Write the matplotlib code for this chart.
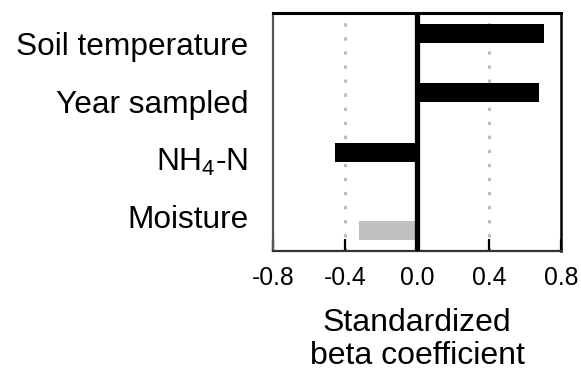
import numpy as np
import matplotlib.pyplot as plt

plt.rcParams["font.family"] = ["Liberation Sans", "DejaVu Sans"]
plt.rcParams["mathtext.fontset"] = "custom"
plt.rcParams["mathtext.rm"] = "Liberation Sans"
plt.rcParams["mathtext.it"] = "Liberation Sans:italic"
plt.rcParams["mathtext.default"] = "rm"

# Predictors, top to bottom, and their standardized beta coefficients
predictors = ["Soil temperature", "Year sampled", "NH$_4$-N", "Moisture"]
beta = [0.705, 0.676, -0.46, -0.324]
bar_colors = ["black", "black", "black", "#c0c0c0"]

# Label rows sit at 0..3; the bars are drawn a little off their labels
label_rows = np.arange(len(predictors))
bar_rows = [-0.164, 0.856, 1.884, 3.234]

fig = plt.figure(figsize=(5.81, 3.75), dpi=100)
ax = fig.add_axes([0.4707, 0.3307, 0.4949, 0.6346])

for x in (-0.4, 0.4):
    ax.axvline(x, color="#bdbdbd", lw=2.2, dashes=(1.1, 3.5), zorder=0)

ax.barh(bar_rows, beta, height=0.33, color=bar_colors, zorder=2)
ax.axvline(0, color="black", lw=3.8, zorder=3)

ax.set_xlim(-0.8, 0.8)
ax.set_ylim(3.593, -0.524)
ax.set_xticks([-0.8, -0.4, 0.0, 0.4, 0.8])
ax.set_xticklabels(["-0.8", "-0.4", "0.0", "0.4", "0.8"])
ax.set_yticks(label_rows)
ax.set_yticklabels(predictors)

ax.tick_params(axis="x", direction="in", length=9, width=1.6, pad=11,
               labelsize=17.8, colors="black")
ax.tick_params(axis="y", length=0, pad=18, labelsize=22.8)

ax.spines["top"].set_linewidth(2.2)
ax.spines["right"].set_linewidth(1.8)
ax.spines["bottom"].set_linewidth(1.6)
ax.spines["bottom"].set_color("#333333")
ax.spines["left"].set_linewidth(1.6)
ax.spines["left"].set_color("#555555")

ax.set_xlabel("Standardized\nbeta coefficient", fontsize=23,
              labelpad=13, linespacing=1.12)

fig.savefig("out.png", dpi=100)
